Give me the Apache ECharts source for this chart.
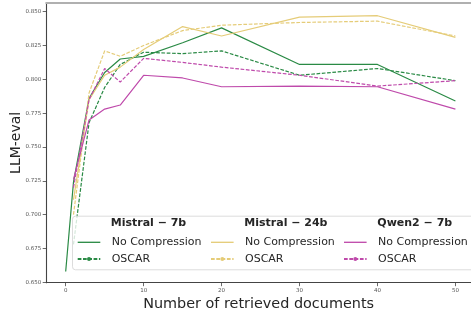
<!DOCTYPE html>
<html>
<head>
<meta charset="utf-8">
<script src="https://cdn.jsdelivr.net/npm/echarts@6/dist/echarts.min.js"></script>
<style>
  html, body { margin: 0; padding: 0; background: #fff; }
  #chart { width: 471px; height: 310px; }
</style>
</head>
<body>
<div id="chart"></div>
<script>
// x positions (number of retrieved documents)
const docsFull = [0, 1, 3, 5, 7, 10, 15, 20, 30, 40, 50];
const docs = [1, 3, 5, 7, 10, 15, 20, 30, 40, 50];

// LLM-eval values
const mistral7bNoComp = [0.658, 0.724, 0.786, 0.805, 0.815, 0.817, 0.827, 0.838, 0.811, 0.811, 0.784];
const mistral7bOscar = [0.678, 0.768, 0.794, 0.811, 0.820, 0.819, 0.821, 0.803, 0.808, 0.799];
const mistral24bNoComp = [0.711, 0.785, 0.803, 0.809, 0.822, 0.839, 0.832, 0.846, 0.847, 0.831];
const mistral24bOscar = [0.700, 0.790, 0.821, 0.817, 0.825, 0.836, 0.840, 0.842, 0.843, 0.832];
const qwen7bNoComp = [0.726, 0.770, 0.778, 0.781, 0.803, 0.801, 0.7945, 0.795, 0.7945, 0.778];
const qwen7bOscar = [0.720, 0.785, 0.808, 0.798, 0.8155, 0.8125, 0.809, 0.803, 0.795, 0.799];

const xTicks = [0, 10, 20, 30, 40, 50];
const yTicks = [0.650, 0.675, 0.700, 0.725, 0.750, 0.775, 0.800, 0.825, 0.850];

const models = ['Mistral − 7b', 'Mistral − 24b', 'Qwen2 − 7b'];
const colors = ['#2a8a45', '#e5cc78', '#bf4aab'];

const font = 'DejaVu Sans';
const pairs = (xs, ys) => ys.map((v, i) => [xs[i], v]);

const lineSeries = (name, xs, ys, color, dashed) => ({
  name: name,
  type: 'line',
  data: pairs(xs, ys),
  symbol: dashed ? 'circle' : 'none',
  showSymbol: false,
  silent: true,
  animation: false,
  itemStyle: { color: color },
  lineStyle: { color: color, width: 1.2, type: dashed ? [3.7, 1.6] : 'solid' },
  z: 2
});

const series = [
  lineSeries('Mistral − 7b|No Compression', docsFull, mistral7bNoComp, colors[0], false),
  lineSeries('Mistral − 7b|OSCAR', docs, mistral7bOscar, colors[0], true),
  lineSeries('Mistral − 24b|No Compression', docs, mistral24bNoComp, colors[1], false),
  lineSeries('Mistral − 24b|OSCAR', docs, mistral24bOscar, colors[1], true),
  lineSeries('Qwen2 − 7b|No Compression', docs, qwen7bNoComp, colors[2], false),
  lineSeries('Qwen2 − 7b|OSCAR', docs, qwen7bOscar, colors[2], true)
];

const solidIcon = 'path://M0 0H170V10H0Z';
const legendX = [76.7, 210, 343];

const legends = models.map((m, i) => ({
  orient: 'vertical',
  left: legendX[i],
  top: 235.8,
  padding: 0,
  itemGap: 3.7,
  itemWidth: 22.6,
  itemHeight: 5,
  selectedMode: false,
  z: 5,
  textStyle: { fontFamily: font, fontSize: 11, color: '#262626', lineHeight: 13, padding: [0, 0, 0, 6.4] },
  formatter: (name) => name.split('|')[1],
  data: [
    { name: m + '|No Compression', icon: solidIcon },
    { name: m + '|OSCAR' }
  ]
}));

const headerX = [110.7, 244.3, 377.3];
const graphics = [
  {
    type: 'rect',
    left: 72,
    top: 215.7,
    shape: { width: 404, height: 53.6, r: 3 },
    style: { fill: 'rgba(255,255,255,0.8)', stroke: '#dcdcdc', lineWidth: 1 },
    z: 3,
    silent: true
  }
].concat(models.map((m, i) => ({
  type: 'text',
  left: headerX[i],
  top: 218,
  z: 6,
  silent: true,
  style: { text: m, fontFamily: font, fontSize: 11, fontWeight: 'bold', fill: '#262626' }
})));

const chart = echarts.init(document.getElementById('chart'), null, { renderer: 'canvas' });
chart.setOption({
  animation: false,
  backgroundColor: '#fff',
  grid: { left: 46.2, right: 0, top: 3, bottom: 27.3, containLabel: false, outerBoundsMode: 'none' },
  xAxis: [
    {
      type: 'value',
      min: -2.5,
      max: 52,
      name: 'Number of retrieved documents',
      nameLocation: 'middle',
      nameGap: 14.5,
      nameMoveOverlap: false,
      nameTextStyle: { fontFamily: font, fontSize: 14.4, color: '#262626' },
      axisLine: { show: true, onZero: false, lineStyle: { color: '#444', width: 1.1 } },
      axisTick: { show: true, length: 3.5, customValues: xTicks, lineStyle: { color: '#444', width: 0.8 } },
      axisLabel: { customValues: xTicks, margin: 4.5, fontFamily: font, fontSize: 5.5, color: '#555' },
      splitLine: { show: false }
    },
    {
      type: 'value',
      position: 'top',
      min: -2.5,
      max: 52,
      axisLine: { show: true, onZero: false, lineStyle: { color: '#b0b0b0', width: 2 } },
      axisTick: { show: false },
      axisLabel: { show: false },
      splitLine: { show: false }
    }
  ],
  yAxis: {
    type: 'value',
    min: 0.6497,
    max: 0.8564,
    name: 'LLM-eval',
    nameLocation: 'middle',
    nameGap: 23,
    nameMoveOverlap: false,
    nameTextStyle: { fontFamily: font, fontSize: 14, color: '#262626' },
    axisLine: { show: true, onZero: false, lineStyle: { color: '#444', width: 1.1 } },
    axisTick: { show: true, length: 3.5, customValues: yTicks, lineStyle: { color: '#444', width: 0.8 } },
    axisLabel: {
      customValues: yTicks,
      margin: 5,
      fontFamily: font,
      fontSize: 5.5,
      color: '#555',
      formatter: (v) => v.toFixed(3)
    },
    splitLine: { show: false }
  },
  legend: legends,
  graphic: graphics,
  series: series
});
</script>
</body>
</html>
